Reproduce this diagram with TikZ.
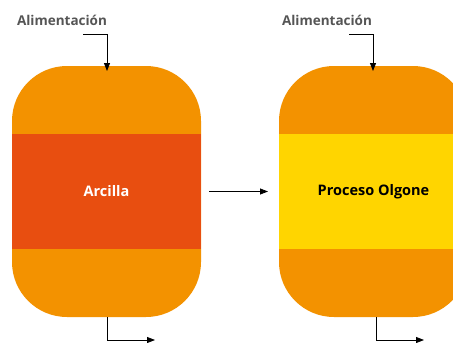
\documentclass[tikz,border=0pt]{standalone}
\usepackage{fontspec}
\setmainfont{Open Sans}
\usetikzlibrary{arrows.meta}
\definecolor{vorange}{HTML}{F39200}
\definecolor{vred}{HTML}{E84E10}
\definecolor{vyellow}{HTML}{FFD500}
\definecolor{lgray}{HTML}{555555}
\begin{document}
\begin{tikzpicture}[x=1pt,y=-1pt,
  vessel/.style={draw=none,fill=vorange,rounded corners=55pt,minimum width=189pt,minimum height=251pt,inner sep=0pt,outer sep=0pt},
  band/.style={draw=none,minimum width=189pt,minimum height=115pt,inner sep=0pt,outer sep=0pt,font=\fontsize{14.5}{17}\selectfont\bfseries},
  feedlabel/.style={font=\fontsize{13.5}{16}\selectfont\bfseries,text=lgray,inner sep=0pt},
  flow/.style={line width=0.8pt,-{Triangle[length=8pt,width=6pt]}}]
\useasboundingbox (0,0) rectangle (453,343);
\clip (0,0) rectangle (453,343);
\node[vessel] (v1) at (106.5,191.5) {};
\node[vessel] (v2) at (373.5,191.5) {};
\node[band,fill=vred,text=white] (b1) at (106.5,191.5) {Arcilla};
\node[band,fill=vyellow,text=black] (b2) at (373.5,191.5) {Proceso Olgone};
\node[feedlabel] (f1) at (62,20) {Alimentación};
\node[feedlabel] (f2) at (327,20) {Alimentación};
\coordinate (s1) at (83,34);
\coordinate (s2) at (349,34);
\draw[flow] (s1) -| ([yshift=-5pt]v1.north -| 107,0);
\draw[flow] (s2) -| ([yshift=-5pt]v2.north -| 373,0);
\coordinate (o1) at (155,340);
\coordinate (o2) at (424,340);
\draw[flow] (v1.south -| 107,0) |- (o1);
\draw[flow] (v2.south -| 376,0) |- (o2);
\draw[flow,shorten <=8pt,shorten >=11pt] (b1.east) -- (b2.west);
\end{tikzpicture}
\end{document}
